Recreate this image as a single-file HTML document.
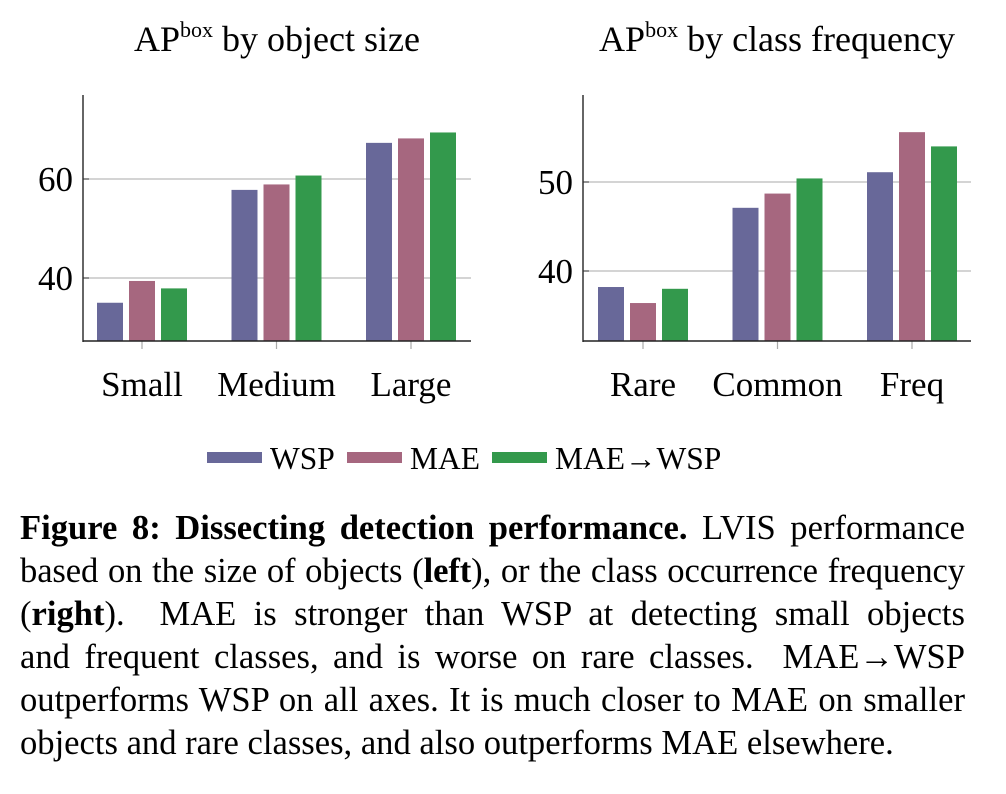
<!DOCTYPE html>
<html><head><meta charset="utf-8"><style>
body{margin:0;background:#fff;width:1006px;height:794px;overflow:hidden;font-family:"Liberation Serif",serif;}
#cap{position:absolute;left:20px;top:507px;width:945px;font-size:34.6px;line-height:43px;color:#000}
#cap div{text-align:justify;text-align-last:justify;white-space:nowrap}
#cap div.last{text-align-last:left}
</style></head><body>
<svg id="chart" width="1006" height="490" style="position:absolute;left:0;top:0" font-family="Liberation Serif, serif"></svg>
<div id="cap">
<div><b>Figure 8: Dissecting detection performance.</b> LVIS performance</div>
<div style="letter-spacing:-0.1px">based on the size of objects (<b>left</b>), or the class occurrence frequency</div>
<div>(<b>right</b>). &nbsp;MAE is stronger than WSP at detecting small objects</div>
<div>and frequent classes, and is worse on rare classes. &nbsp;MAE→WSP</div>
<div>outperforms WSP on all axes. It is much closer to MAE on smaller</div>
<div class="last">objects and rare classes, and also outperforms MAE elsewhere.</div>
</div>
<script>
const sizeCats=["Small","Medium","Large"];
const sizeWSP=[35.0,57.8,67.3];
const sizeMAE=[39.4,58.9,68.2];
const sizeMW=[37.9,60.7,69.4];
const sizeTicks=[40,60];
const freqCats=["Rare","Common","Freq"];
const freqWSP=[38.2,47.1,51.1];
const freqMAE=[36.4,48.7,55.6];
const freqMW=[38.0,50.4,54.0];
const freqTicks=[40,50];
const seriesNames=["WSP","MAE","MAE→WSP"];
const colors=["#686899","#a6677f","#33994c"];
const NS="http://www.w3.org/2000/svg";
const svg=document.getElementById('chart');
function mk(t,a,p){const e=document.createElementNS(NS,t);for(const k in a)e.setAttribute(k,a[k]);(p||svg).appendChild(e);return e;}
function panel(name,x0,x1,v0,y0,v1,y1,cats,series,ticks,title,c0,step){
  const g=mk('g',{});
  
  
  const Y=v=>y0+(v-v0)*(y1-y0)/(v1-v0);
  const top=95,bot=341;
  ticks.forEach(t=>{
    const l=mk('line',{x1:x0,x2:x1,y1:Y(t),y2:Y(t),stroke:'#bbb','stroke-width':1.2},g);
    
    mk('line',{x1:x0,x2:x0+6,y1:Y(t),y2:Y(t),stroke:'#555','stroke-width':1.2},g);
    const tx=mk('text',{x:x0-10,y:Y(t)+12,'font-size':35,'text-anchor':'end'},g);tx.textContent=t;
    
  });
  cats.forEach((c,i)=>{
    const cx=c0+i*step;
    series.forEach((s,j)=>{
      const bx=cx-45+j*32;
      const r=mk('rect',{x:bx,y:Y(s[i]),width:26,height:bot-Y(s[i]),fill:colors[j]},g);
      
      
    });
    mk('line',{x1:cx,x2:cx,y1:bot,y2:bot+8,stroke:'#aaa','stroke-width':1.2},g);
    const tx=mk('text',{x:cx,y:396,'font-size':35,'text-anchor':'middle'},g);tx.textContent=c;
    
  });
  mk('line',{x1:x0,x2:x0,y1:top,y2:bot+1,stroke:'#333','stroke-width':1.5},g);
  mk('line',{x1:x0,x2:x1,y1:bot,y2:bot,stroke:'#222','stroke-width':1.5},g);
  const tt=mk('text',{x:(x0+x1)/2,y:51,'font-size':36,'text-anchor':'middle'},g);
  tt.innerHTML='AP<tspan font-size="22" dy="-14">box</tspan><tspan dy="14"> '+title+'</tspan>';
  
}
panel('size-chart',83,471,40,278,60,179,sizeCats,[sizeWSP,sizeMAE,sizeMW],sizeTicks,'by object size',142,134.5);
panel('frequency-chart',583,971,40,271,50,182,freqCats,[freqWSP,freqMAE,freqMW],freqTicks,'by class frequency',643,134.5);
const lx=[207,347,492];
seriesNames.forEach((n,j)=>{
  const g=mk('g',{});
  
  
  mk('rect',{x:lx[j],y:452,width:55,height:11,fill:colors[j]},g);
  const t=mk('text',{x:lx[j]+63,y:469,'font-size':31.5},g);t.textContent=n;
});
</script>
</body></html>
